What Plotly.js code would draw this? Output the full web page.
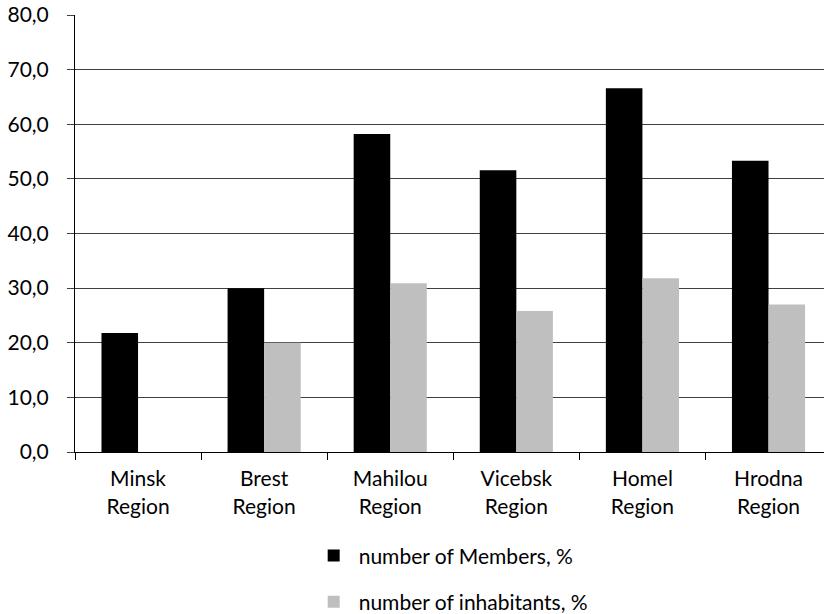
<!DOCTYPE html>
<html>
<head>
<meta charset="utf-8">
<script src="https://cdn.plot.ly/plotly-3.0.1.min.js"></script>
<style>html,body{margin:0;padding:0;background:#fff;}#chart{width:824px;height:614px;}</style>
</head>
<body>
<div id="chart"></div>
<script>
var categories = ["Minsk<br>Region", "Brest<br>Region", "Mahilou<br>Region", "Vicebsk<br>Region", "Homel<br>Region", "Hrodna<br>Region"];
var members = [21.8, 30.0, 58.2, 51.6, 66.6, 53.3];
var inhabitants = [null, 20.0, 30.9, 25.8, 31.8, 27.0];
var yTicks = [0, 10, 20, 30, 40, 50, 60, 70, 80];
var yTickLabels = ["0,0", "10,0", "20,0", "30,0", "40,0", "50,0", "60,0", "70,0", "80,0"];

var font = "Lato, 'Open Sans', sans-serif";
var traces = [
  {type: "bar", x: categories, y: members, name: "number of Members, %", legendgroup: "a",
   marker: {color: "#000000"}, hoverinfo: "y"},
  {type: "bar", x: categories, y: inhabitants, name: "number of inhabitants, %", legendgroup: "b",
   marker: {color: "#bfbfbf"}, hoverinfo: "y"}
];
var layout = {
  width: 824, height: 614,
  margin: {l: 75, r: 0, t: 15, b: 162},
  paper_bgcolor: "#fff", plot_bgcolor: "#fff",
  barmode: "group", bargap: 0.42, bargroupgap: 0,
  font: {family: font, size: 21, color: "#000"},
  xaxis: {
    type: "category", range: [-0.5, 5.44],
    showline: true, linecolor: "#000", linewidth: 1,
    ticks: "outside", tickson: "boundaries", ticklen: 7, tickcolor: "#000",
    ticklabelstandoff: 8,
    showgrid: false, zeroline: false,
    tickfont: {family: font, size: 21, color: "#000"}
  },
  yaxis: {
    range: [0, 80], tickmode: "array", tickvals: yTicks, ticktext: yTickLabels,
    showline: true, linecolor: "#000", linewidth: 1,
    ticks: "outside", ticklen: 7, tickcolor: "#404040",
    ticklabelstandoff: 14,
    showgrid: true, gridcolor: "#404040", gridwidth: 1,
    zeroline: false,
    tickfont: {family: font, size: 21, color: "#000"}
  },
  showlegend: true,
  legend: {orientation: "v", x: 0.312, xanchor: "left", xref: "paper",
           y: 0.128, yref: "container", yanchor: "top", itemwidth: 40,
           tracegroupgap: 16, font: {family: font, size: 21, color: "#000"}}
};
Plotly.newPlot("chart", traces, layout, {displayModeBar: false, staticPlot: true});
</script>
</body>
</html>
